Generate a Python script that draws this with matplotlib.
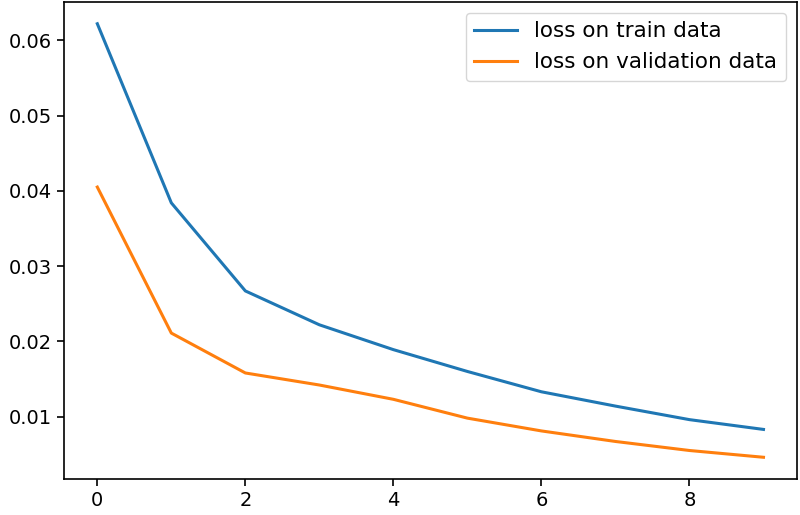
import matplotlib
matplotlib.use('Agg')
import matplotlib.pyplot as plt

# loss per epoch
epochs = [0, 1, 2, 3, 4, 5, 6, 7, 8, 9]
train_loss = [0.0622, 0.0384, 0.0267, 0.0222, 0.0189, 0.0160, 0.0133, 0.0114, 0.0096, 0.0083]
val_loss = [0.0405, 0.0211, 0.0158, 0.0142, 0.0123, 0.0098, 0.0081, 0.0067, 0.0055, 0.0046]

fig = plt.figure(figsize=(8, 5.15), dpi=100)
ax = fig.add_axes([0.08, 0.07, 0.916, 0.926])

ax.plot(epochs, train_loss, lw=2.2, label='loss on train data')
ax.plot(epochs, val_loss, lw=2.2, label='loss on validation data')

ax.set_xticks([0, 2, 4, 6, 8])
ax.set_yticks([0.01, 0.02, 0.03, 0.04, 0.05, 0.06])
ax.tick_params(labelsize=14, length=5, width=1.2)
for s in ax.spines.values():
    s.set_linewidth(1.2)

ax.legend(loc='upper right', fontsize=15.5, borderaxespad=0.5)

fig.savefig('out.png', dpi=100)
